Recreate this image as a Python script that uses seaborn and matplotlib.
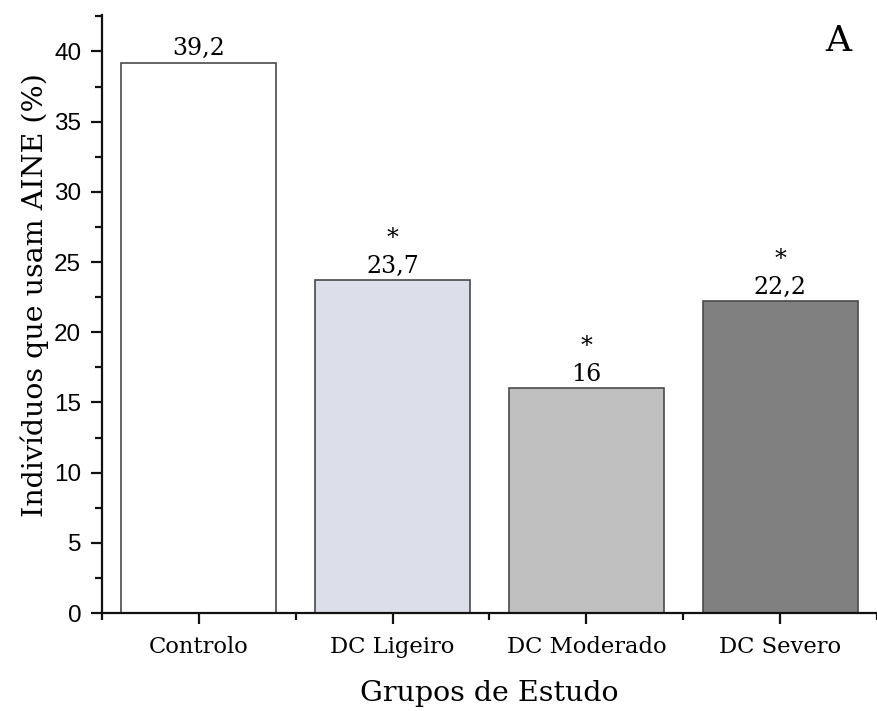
import matplotlib
matplotlib.use("Agg")
import matplotlib.pyplot as plt
import seaborn as sns
import pandas as pd
from matplotlib.ticker import MultipleLocator, FixedLocator

groups = ["Controlo", "DC Ligeiro", "DC Moderado", "DC Severo"]
values = [39.2, 23.7, 16.0, 22.2]
value_labels = ["39,2", "23,7", "16", "22,2"]
significant = [False, True, True, True]
colors = ["#ffffff", "#dcdfe9", "#c0c0c0", "#808080"]

df = pd.DataFrame({"grupo": groups, "pct": values})

sns.set_style("ticks")
plt.rcParams["text.color"] = "black"
plt.rcParams["xtick.labelcolor"] = "black"
plt.rcParams["ytick.labelcolor"] = "black"
plt.rcParams["axes.labelcolor"] = "black"
serif = "DejaVu Serif"
sans = "Liberation Sans"

fig = plt.figure(figsize=(8.77, 7.11), dpi=100)
ax = fig.add_axes([0.1163, 0.1378, 0.8837, 0.8412])

sns.barplot(data=df, x="grupo", y="pct", hue="grupo", palette=colors,
            width=0.8, edgecolor="#4a4a4a", linewidth=1.2, legend=False, ax=ax,
            saturation=1)

ax.set_xlim(-0.5, 3.5)
ax.set_ylim(0, 42.6)
ax.yaxis.set_major_locator(MultipleLocator(5))
ax.yaxis.set_minor_locator(MultipleLocator(2.5))
ax.xaxis.set_minor_locator(FixedLocator([-0.5, 0.5, 1.5, 2.5, 3.5]))

for side in ["top", "right"]:
    ax.spines[side].set_visible(False)
for side in ["left", "bottom"]:
    ax.spines[side].set_linewidth(1.6)
    ax.spines[side].set_color("#111111")

ax.tick_params(axis="both", which="major", direction="out", length=8, width=1.6, color="#111111")
ax.tick_params(axis="both", which="minor", direction="out", length=5, width=1.6, color="#111111")
ax.tick_params(axis="y", labelsize=17.5, pad=7)
ax.tick_params(axis="x", labelsize=16.3, pad=8.5)
for t in ax.get_yticklabels():
    t.set_fontfamily(sans)
for t in ax.get_xticklabels():
    t.set_fontfamily(serif)

ax.set_xlabel("Grupos de Estudo", fontsize=20.5, fontfamily=serif, labelpad=16)
ax.set_ylabel("Indivíduos que usam AINE (%)", fontsize=20.5, fontfamily=serif, labelpad=6)
ax.yaxis.set_label_coords(-0.068, 0.532)

for i, (v, lab, sig) in enumerate(zip(values, value_labels, significant)):
    ax.annotate(lab, (i, v), xytext=(0, 2), textcoords="offset points",
                ha="center", va="bottom", fontsize=17, fontfamily=serif)
    if sig:
        ax.annotate("*", (i, v), xytext=(0, 22), textcoords="offset points",
                    ha="center", va="bottom", fontsize=17, fontfamily=serif)

ax.text(3.30, 40.0, "A", fontsize=26, fontfamily=serif, ha="center", va="baseline")

fig.savefig("out.png", dpi=100)
